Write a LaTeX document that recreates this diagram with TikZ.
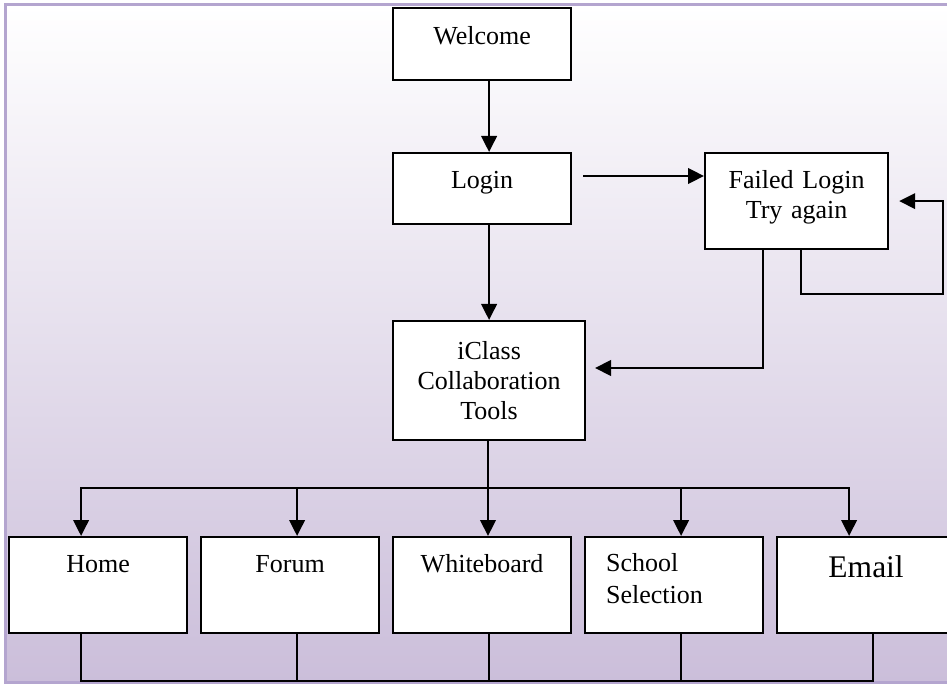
\documentclass[tikz,border=0pt]{standalone}
\usepackage{fontspec}
\setmainfont{Liberation Serif}
\usetikzlibrary{arrows.meta, positioning}
\definecolor{rahmen}{HTML}{B4A5CF}
\definecolor{flieder}{HTML}{CBBEDA}

\begin{document}
\begin{tikzpicture}[
    x=1pt, y=-1pt,
    box/.style={draw, line width=2.2pt, fill=white, anchor=north west,
                inner sep=0pt, text width=178pt, align=center,
                text height=35pt, text depth=61pt,
                font=\fontsize{26}{30}\selectfont},
    arr/.style={-{Triangle[length=16pt, width=15.5pt]}, line width=2.2pt},
    line/.style={line width=2.2pt}
  ]
  \useasboundingbox (0,0) rectangle (947,684);
  \clip (0,0) rectangle (947,684);
  \fill[top color=white, bottom color=flieder] (5,5) rectangle (955,682);
  \draw[rahmen, line width=3pt] (5,5) rectangle (955,682);

  \node[box, text height=36pt, text depth=36pt] (welcome) at (392,7) {Welcome};
  \node[box, text depth=36pt] (login) at (392,152) {Login};
  \node[box, text width=192pt, text height=38pt, text depth=81pt] (iclass) at (392,320)
    {iClass\\Collaboration\\Tools};
  \node[box, text width=183pt] (fail) at (704,152) {Failed Login\\Try again};

  \node[box] (home) at (8,536) {Home};
  \node[box] (forum) at (200,536) {Forum};
  \node[box] (whiteboard) at (392,536) {Whiteboard};
  \node[box, inner xsep=21pt, text width=136pt, align=left, text height=34pt,
        text depth=62pt, font=\fontsize{26}{32}\selectfont] (school) at (584,536)
    {School\\Selection};
  \node[box, text height=40pt, text depth=56pt,
        font=\fontsize{31.5}{36}\selectfont] (email) at (776,536) {Email};

  \draw[arr] (welcome.south -| iclass.north) -- (login.north -| iclass.north);
  \draw[arr] (login.south -| iclass.north) -- (iclass.north);

  \coordinate (ls) at (583,176);
  \draw[arr] (ls) -- (ls -| fail.west);
  \coordinate (fb) at (595,368);
  \draw[arr] ([xshift=-33.5pt]fail.south) |- (fb);
  \coordinate (lp) at (943,294);
  \draw[arr] ([xshift=4.5pt]fail.south) |- (lp) |- ([xshift=10pt]fail.east);

  \coordinate (bus) at (488,488);
  \draw[line] (iclass.south -| bus) -- (bus);
  \draw[arr] (bus) -| ([xshift=-17pt]home.north);
  \draw[arr] (bus) -| ([xshift=7pt]forum.north);
  \draw[arr] (bus) -- (whiteboard.north -| bus);
  \draw[arr] (bus) -| ([xshift=7pt]school.north);
  \draw[arr] (bus) -| ([xshift=-17pt]email.north);

  \draw[line] ([xshift=-17pt]home.south) -- ++(0,47) -| ([xshift=7pt]email.south);
  \foreach \n in {forum,whiteboard,school}
    \draw[line] ([xshift=7pt]\n.south) -- ++(0,47);
\end{tikzpicture}
\end{document}
